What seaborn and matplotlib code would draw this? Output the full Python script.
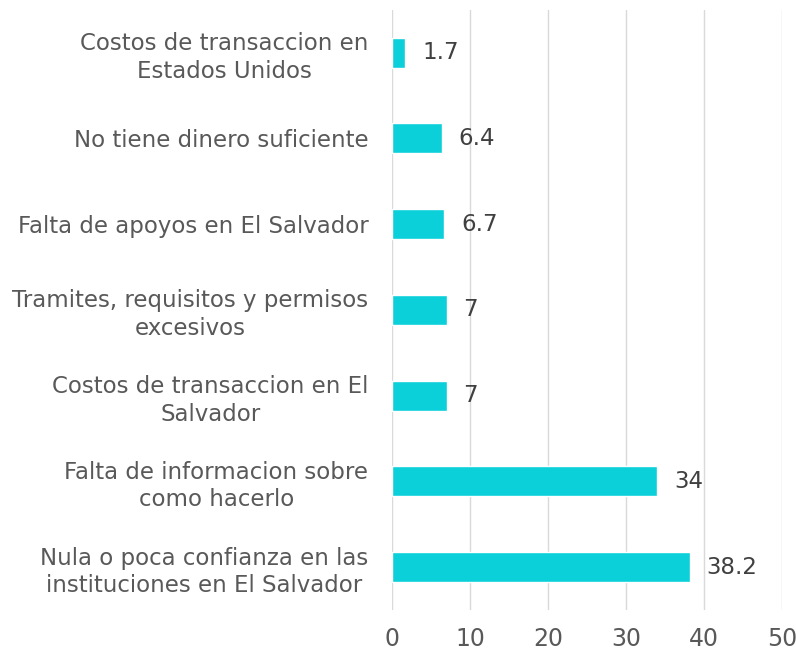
import matplotlib
matplotlib.use("Agg")
import matplotlib.pyplot as plt
import seaborn as sns
import pandas as pd

categories = [
    "Costos de transaccion en\nEstados Unidos",
    "No tiene dinero suficiente",
    "Falta de apoyos en El Salvador",
    "Tramites, requisitos y permisos\nexcesivos",
    "Costos de transaccion en El\nSalvador",
    "Falta de informacion sobre\ncomo hacerlo",
    "Nula o poca confianza en las\ninstituciones en El Salvador",
]
values = [1.7, 6.4, 6.7, 7, 7, 34, 38.2]
value_labels = ["1.7", "6.4", "6.7", "7", "7", "34", "38.2"]
x_ticks = [0, 10, 20, 30, 40, 50]

df = pd.DataFrame({"motivo": categories, "porcentaje": values})

sns.set_style("white")
plt.rcParams["font.family"] = ["DejaVu Sans"]

fig = plt.figure(figsize=(7.96, 6.51), dpi=100)
ax = fig.add_axes([0.4925, 0.063, 0.49, 0.922])

sns.barplot(data=df, y="motivo", x="porcentaje", orient="h", color="#0BD0DA",
            saturation=1, width=0.35, ax=ax)

ax.bar_label(ax.containers[0], labels=value_labels, padding=12,
             fontsize=16.5, color="#404040")

ax.set_xlim(0, 50)
ax.set_xticks(x_ticks)
ax.set_xticklabels([str(t) for t in x_ticks], fontsize=17, color="#595959")
ax.tick_params(axis="x", length=0, pad=12)
ax.tick_params(axis="y", length=0, pad=17)
for lbl in ax.get_yticklabels():
    lbl.set_fontsize(16.5)
    lbl.set_color("#595959")
    lbl.set_multialignment("center")
    lbl.set_linespacing(1.25)

ax.grid(axis="x", color="#D9D9D9", linewidth=1)
ax.set_axisbelow(True)
for s in ax.spines.values():
    s.set_visible(False)
ax.set_xlabel("")
ax.set_ylabel("")

fig.savefig("out.png", dpi=100)
